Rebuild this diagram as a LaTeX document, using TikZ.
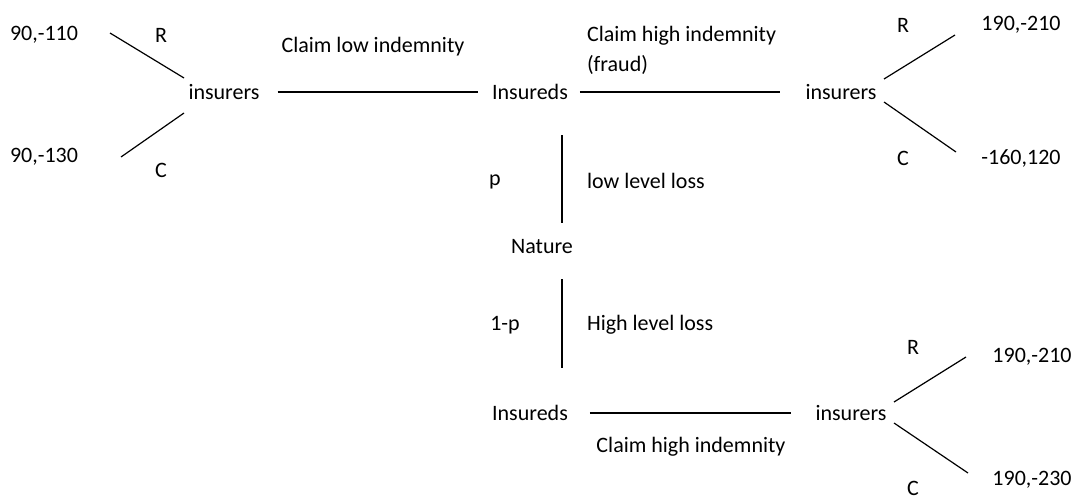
\documentclass[tikz,border=0pt]{standalone}
\usepackage{fontspec}
\setmainfont{Carlito}
\usepackage{tikz}

\tikzset{
  link/.style={line width=.6pt},
  lbl/.style={draw=none, font=\fontsize{11}{15}\selectfont}
}

\begin{document}
\begin{tikzpicture}[x=.5pt, y=-.5pt]
             \useasboundingbox (0,0) rectangle (1075,498);

             % left insurers
             \node[lbl] (payLR) at (44, 35) {90,-110};
             \node[lbl] (rL) at (161, 35) {R};
             \node[lbl] (insL) at (224, 92) {insurers};
             \node[lbl] (payLC) at (44, 157) {90,-130};
             \node[lbl] (cL) at (161, 170) {C};
             \coordinate (tipLR) at (110, 33);
             \coordinate (rootLR) at (184, 78);
             \coordinate (tipLC) at (121, 157);
             \coordinate (rootLC) at (184, 113);
             \draw[link] (rootLR) -- (tipLR);
             \draw[link] (rootLC) -- (tipLC);

             % top row
             \node[lbl] (claimLow) at (373, 47) {Claim low indemnity};
             \node[lbl] (insdT) at (530, 92) {Insureds};
             \node[lbl, anchor=west, align=left] (claimFraud) at (580, 50) {Claim high indemnity\\(fraud)};
             \node[lbl] (insR) at (841, 92) {insurers};
             \draw[link, shorten <=5.5pt, shorten >=3.5pt] (insL) -- (insdT);
             \draw[link, shorten <=2.5pt, shorten >=9pt] (insdT) -- (insR);

             % right insurers
             \node[lbl] (rR) at (903, 25) {R};
             \node[lbl] (payRR) at (1021, 25) {190,-210};
             \node[lbl] (cR) at (903, 158) {C};
             \node[lbl] (payRC) at (1021, 158) {-160,120};
             \coordinate (rootRR) at (884, 79);
             \coordinate (tipRR) at (955, 35);
             \coordinate (rootRC) at (884, 102);
             \coordinate (tipRC) at (956, 152);
             \draw[link] (rootRR) -- (tipRR);
             \draw[link] (rootRC) -- (tipRC);

             % nature
             \node[lbl] (pLow) at (495, 182) {p};
             \node[lbl, anchor=west] (lossLow) at (580, 181) {low level loss};
             \node[lbl] (nature) at (542, 247) {Nature};
             \node[lbl] (pHigh) at (505, 325) {1-p};
             \node[lbl, anchor=west] (lossHigh) at (580, 325) {High level loss};
             \coordinate (upA) at (562, 135);
             \coordinate (upB) at (562, 223);
             \coordinate (downA) at (562, 279);
             \coordinate (downB) at (562, 368);
             \draw[link] (upA) -- (upB);
             \draw[link] (downA) -- (downB);

             % bottom row
             \node[lbl] (insdB) at (530, 413) {Insureds};
             \node[lbl] (insB) at (851, 413) {insurers};
             \node[lbl] (claimHigh) at (691, 447) {Claim high indemnity};
             \draw[link, shorten <=7.5pt, shorten >=8.5pt] (insdB) -- (insB);

             \node[lbl] (rB) at (913, 347) {R};
             \node[lbl] (payBR) at (1032, 357) {190,-210};
             \node[lbl] (cB) at (913, 488) {C};
             \node[lbl] (payBC) at (1032, 480) {190,-230};
             \coordinate (rootBR) at (894, 402);
             \coordinate (tipBR) at (966, 357);
             \coordinate (rootBC) at (894, 423);
             \coordinate (tipBC) at (968, 473);
             \draw[link] (rootBR) -- (tipBR);
             \draw[link] (rootBC) -- (tipBC);
             \end{tikzpicture}
\end{document}
